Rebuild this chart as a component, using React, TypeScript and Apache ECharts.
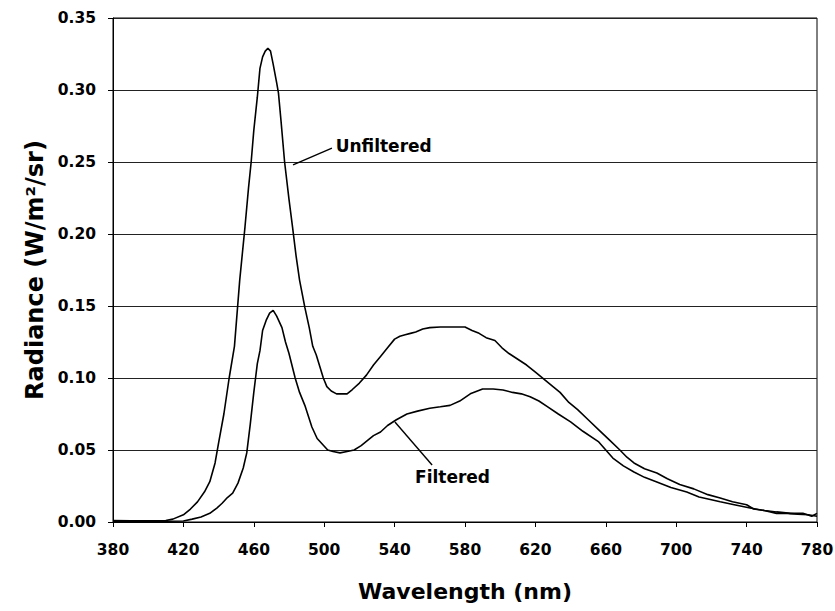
import React, { useEffect, useRef } from "react";
import * as echarts from "echarts";

// Wavelength (nm) / radiance (W/m²/sr)
const unfilteredNm = [380, 390, 400, 410, 414, 420, 424, 428, 432, 435, 438, 440, 443, 446, 449, 452, 455, 457, 458.5, 460, 462, 463.5, 465, 466.5, 468, 469.5, 471, 473, 474, 475.5, 477.5, 480, 482, 484, 486, 489, 491.5, 493.5, 495.5, 497.5, 499.5, 501.5, 504, 507, 510, 513, 516, 520, 524, 528, 532, 536, 540, 543, 546, 549, 552, 556, 560, 566, 572, 580, 584, 588, 592, 597, 601, 605, 610, 615, 620, 625, 630, 634, 639, 644, 650, 656, 662, 668, 672, 676, 682, 689, 695, 702, 710, 718, 725, 732, 740, 744, 750, 757, 765, 772, 777, 780];
const unfilteredVal = [0.001, 0.0008, 0.0008, 0.001, 0.002, 0.005, 0.009, 0.014, 0.021, 0.028, 0.041, 0.055, 0.075, 0.1, 0.122, 0.168, 0.205, 0.232, 0.25, 0.272, 0.295, 0.315, 0.323, 0.327, 0.329, 0.327, 0.318, 0.305, 0.298, 0.278, 0.25, 0.224, 0.205, 0.185, 0.168, 0.149, 0.135, 0.122, 0.116, 0.108, 0.1, 0.094, 0.091, 0.089, 0.089, 0.089, 0.092, 0.0965, 0.102, 0.109, 0.115, 0.121, 0.127, 0.129, 0.13, 0.131, 0.132, 0.134, 0.135, 0.1354, 0.1354, 0.1354, 0.133, 0.131, 0.128, 0.126, 0.121, 0.117, 0.113, 0.109, 0.104, 0.099, 0.094, 0.09, 0.083, 0.078, 0.071, 0.064, 0.057, 0.05, 0.045, 0.041, 0.037, 0.034, 0.03, 0.026, 0.023, 0.019, 0.0167, 0.014, 0.012, 0.009, 0.008, 0.007, 0.006, 0.006, 0.004, 0.006];

const filteredNm = [380, 390, 400, 410, 420, 425, 430, 435, 439, 442, 445, 448, 451, 454, 456, 458, 460, 461, 462, 463.5, 465, 467, 469, 471, 473, 476, 478, 480, 483.5, 486, 489, 493, 496, 499, 502, 505, 509, 513, 517, 521, 525, 528, 532, 536, 541, 547, 553, 560, 566, 571.5, 577, 583, 590, 596, 601.6, 607, 612, 617, 622, 627, 633, 640, 647, 656, 660, 664, 670, 676, 682, 689, 697, 706, 713, 720, 725, 733, 742, 750, 757, 763, 769, 775, 780];
const filteredVal = [0.0005, 0.0005, 0.0005, 0.0005, 0.0007, 0.002, 0.0035, 0.006, 0.0097, 0.013, 0.017, 0.02, 0.027, 0.0375, 0.048, 0.068, 0.09, 0.1, 0.11, 0.119, 0.133, 0.14, 0.145, 0.147, 0.143, 0.135, 0.125, 0.117, 0.1, 0.09, 0.081, 0.066, 0.058, 0.054, 0.05, 0.049, 0.048, 0.049, 0.05, 0.053, 0.057, 0.06, 0.0625, 0.067, 0.071, 0.075, 0.077, 0.079, 0.08, 0.081, 0.084, 0.089, 0.0924, 0.0924, 0.0917, 0.09, 0.089, 0.087, 0.084, 0.08, 0.075, 0.0695, 0.063, 0.0556, 0.05, 0.0444, 0.039, 0.0347, 0.031, 0.0278, 0.024, 0.0208, 0.0174, 0.0155, 0.014, 0.012, 0.0097, 0.008, 0.006, 0.006, 0.0055, 0.005, 0.004];

// Annotation anchors (data coordinates)
const unfilteredLeader = [[482.3, 0.248], [504.4, 0.2597]];
const unfilteredLabelAt = [506.5, 0.261];
const filteredLeader = [[540.2, 0.0694], [561.3, 0.0396]];
const filteredLabelAt = [551.6, 0.0313];

const xTicks = { min: 380, max: 780, interval: 40 };
const yTicks = { min: 0, max: 0.35, interval: 0.05 };

const FONT = "DejaVu Sans";

export default function App() {
  const ref = useRef<HTMLDivElement>(null);
  useEffect(() => {
    if (!ref.current) return;
    const chart = echarts.init(ref.current, undefined, { renderer: "svg" });
    const zip = (xs: number[], ys: number[]) => xs.map((x, i) => [x, ys[i]]);
    const labelStyle = {
      fontFamily: FONT,
      fontWeight: "bold" as const,
      fontSize: 17,
      color: "#000",
    };
    chart.setOption({
      animation: false,
      backgroundColor: "#fff",
      grid: {
        left: 113,
        right: 18,
        top: 18,
        bottom: 89,
        show: true,
        borderColor: "#000",
        borderWidth: 1,
        backgroundColor: "transparent",
        outerBoundsMode: "none",
      },
      xAxis: {
        type: "value",
        min: xTicks.min,
        max: xTicks.max,
        interval: xTicks.interval,
        name: "Wavelength (nm)",
        nameLocation: "middle",
        nameGap: 58,
        nameTextStyle: { fontFamily: FONT, fontWeight: "bold", fontSize: 22, color: "#000" },
        axisLine: { show: true, lineStyle: { color: "#000", width: 1 } },
        axisTick: { show: true, inside: false, length: 5, lineStyle: { color: "#000" } },
        axisLabel: { margin: 20, fontFamily: FONT, fontWeight: "bold", fontSize: 15.5, color: "#000" },
        splitLine: { show: false },
      },
      yAxis: {
        type: "value",
        min: yTicks.min,
        max: yTicks.max,
        interval: yTicks.interval,
        name: "Radiance (W/m²/sr)",
        nameLocation: "middle",
        nameGap: 64,
        nameTextStyle: { fontFamily: FONT, fontWeight: "bold", fontSize: 24, color: "#000" },
        axisLine: { show: true, lineStyle: { color: "#000", width: 1 } },
        axisTick: { show: true, inside: false, length: 5, lineStyle: { color: "#000" } },
        axisLabel: {
          margin: 17,
          fontFamily: FONT,
          fontWeight: "bold",
          fontSize: 15.5,
          color: "#000",
          formatter: (v: number) => v.toFixed(2),
        },
        splitLine: { show: true, lineStyle: { color: "#222", width: 1 } },
      },
      series: [
        {
          name: "Unfiltered",
          type: "line",
          data: zip(unfilteredNm, unfilteredVal),
          showSymbol: false,
          lineStyle: { color: "#000", width: 1.6 },
          itemStyle: { color: "#000" },
          markLine: {
            silent: true,
            symbol: "none",
            label: { show: false },
            lineStyle: { color: "#000", width: 1.4, type: "solid" },
            data: [[{ coord: unfilteredLeader[0] }, { coord: unfilteredLeader[1] }]],
          },
          markPoint: {
            silent: true,
            symbol: "circle",
            symbolSize: 0,
            data: [
              {
                coord: unfilteredLabelAt,
                label: { show: true, position: "right", distance: 0, formatter: "Unfiltered", ...labelStyle },
              },
            ],
          },
        },
        {
          name: "Filtered",
          type: "line",
          data: zip(filteredNm, filteredVal),
          showSymbol: false,
          lineStyle: { color: "#000", width: 1.6 },
          itemStyle: { color: "#000" },
          markLine: {
            silent: true,
            symbol: "none",
            label: { show: false },
            lineStyle: { color: "#000", width: 1.4, type: "solid" },
            data: [[{ coord: filteredLeader[0] }, { coord: filteredLeader[1] }]],
          },
          markPoint: {
            silent: true,
            symbol: "circle",
            symbolSize: 0,
            data: [
              {
                coord: filteredLabelAt,
                label: { show: true, position: "right", distance: 0, formatter: "Filtered", ...labelStyle },
              },
            ],
          },
        },
      ],
    });
    return () => chart.dispose();
  }, []);
  return (
    <div
      ref={ref}
      style={{ position: "fixed", left: 0, top: 0, width: 835, height: 611, background: "#fff" }}
    />
  );
}
